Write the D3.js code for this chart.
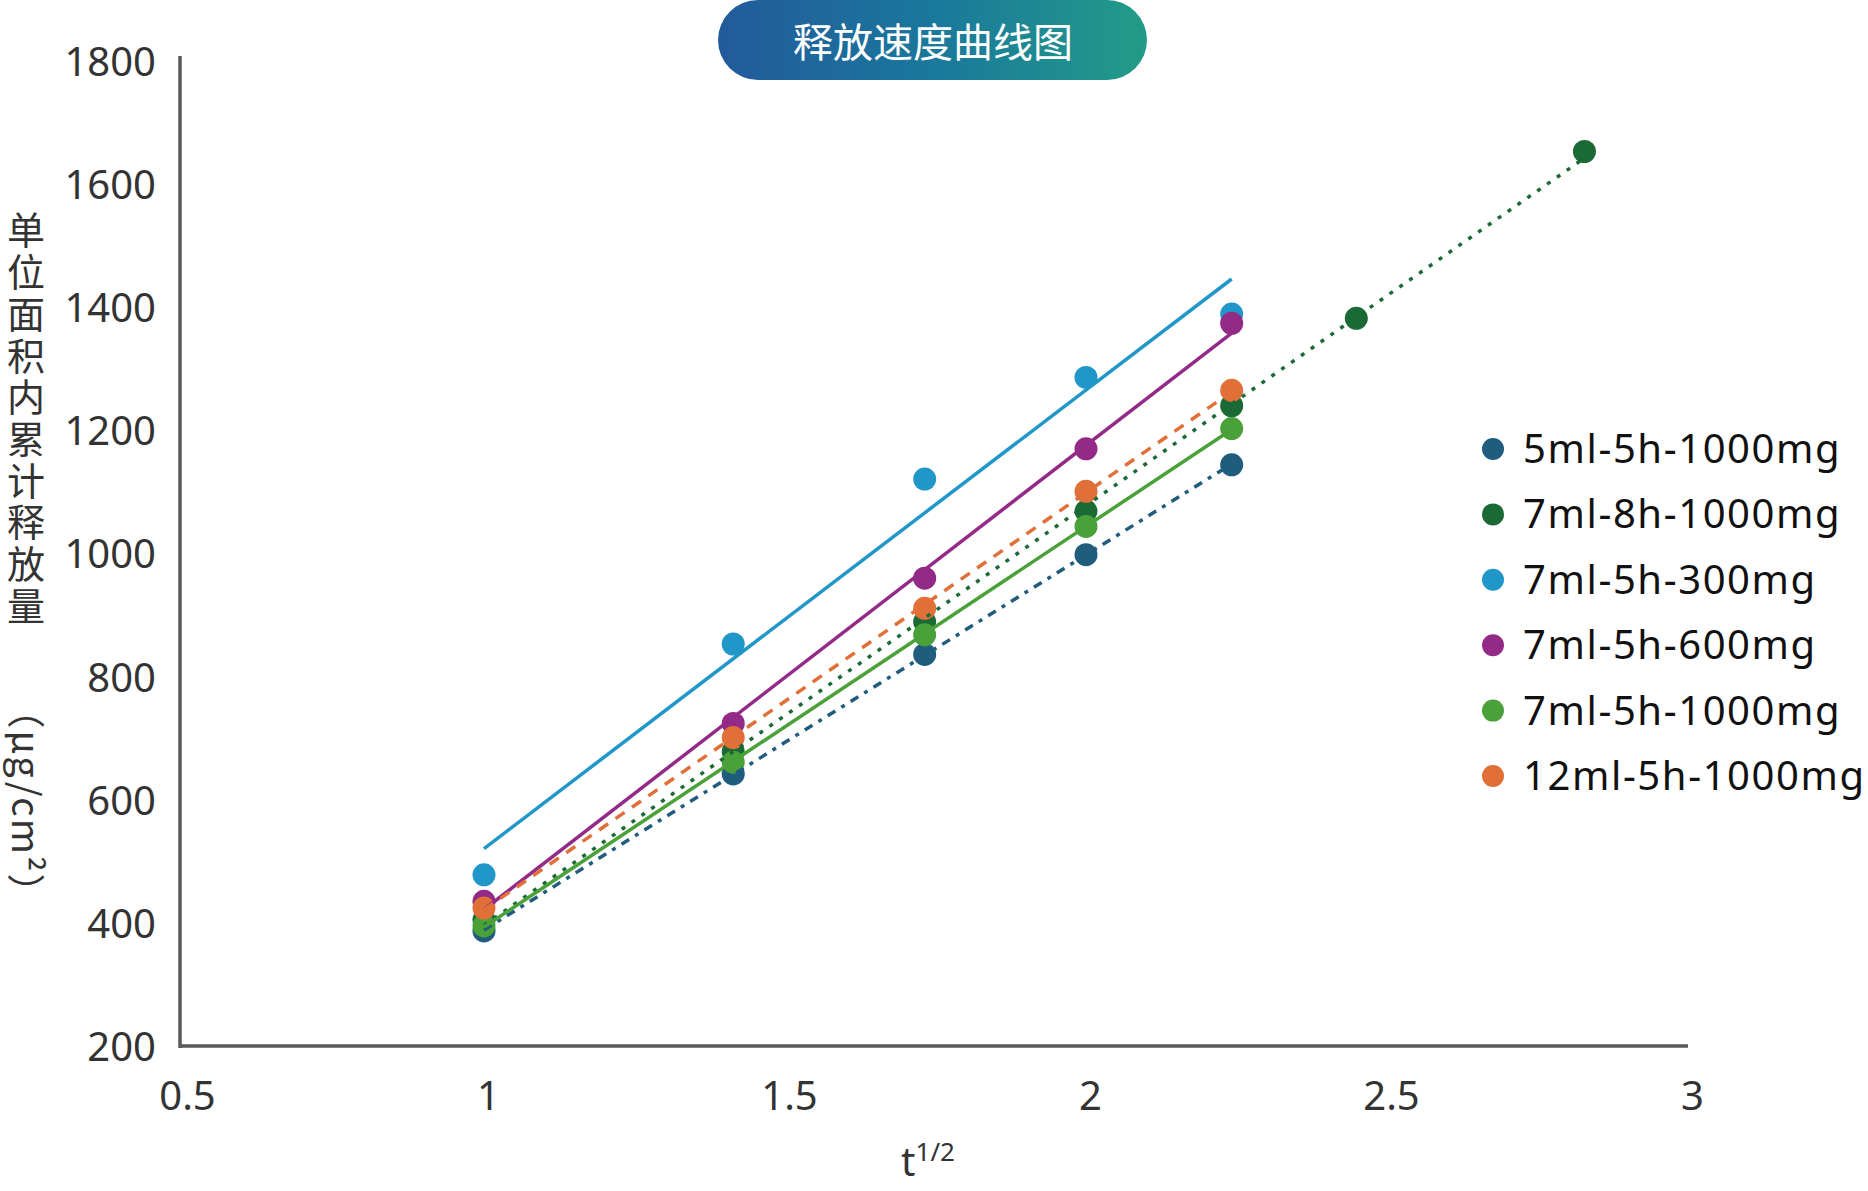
<!DOCTYPE html>
<html>
<head>
<meta charset="utf-8">
<script src="https://cdn.jsdelivr.net/npm/d3@7"></script>
<style>
    body { margin: 0; background: #fff; }
    svg { display: block; }
</style>
</head>
<body>
<svg id="chart" width="1868" height="1191"></svg>
<script>
let TITLE = '释放速度曲线图';
let Y_TITLE = '单位面积内累计释放量';
let Y_UNIT = '（μg/cm²）';

let seriesNames = ['5ml-5h-1000mg', '7ml-8h-1000mg', '7ml-5h-300mg', '7ml-5h-600mg', '7ml-5h-1000mg', '12ml-5h-1000mg'];

// t^1/2 values
let xShort = [1, 1.414, 1.732, 2, 2.242];
let xLong = [1, 1.414, 1.732, 2, 2.242, 2.449, 2.828];

let y5ml1000 = [387, 642, 836, 998, 1144];
let y7ml8h1000 = [405, 678, 889, 1069, 1240, 1382, 1653];
let y7ml300 = [478, 853, 1121, 1286, 1389];
let y7ml600 = [435, 724, 960, 1170, 1374];
let y7ml1000 = [395, 661, 868, 1044, 1203];
let y12ml1000 = [424, 701, 911, 1101, 1265];

let xTicks = [0.5, 1, 1.5, 2, 2.5, 3];
let yTicks = [200, 400, 600, 800, 1000, 1200, 1400, 1600, 1800];

let colors = ['#1f5c7e', '#1b6a36', '#2197c9', '#932a87', '#4aa13a', '#e07038'];
let dashes = ['9 7 4 7', '4 8', null, null, null, '11 9'];

function linearFit(xs, ys) {
    let n = xs.length;
    let mx = d3.mean(xs), my = d3.mean(ys);
    let sxx = 0, sxy = 0;
    for (let i = 0; i < n; i++) {
        sxx += (xs[i] - mx) * (xs[i] - mx);
        sxy += (xs[i] - mx) * (ys[i] - my);
    }
    let slope = sxy / sxx;
    return x => my + slope * (x - mx);
}

let series = [
    {name: seriesNames[0], xs: xShort, ys: y5ml1000},
    {name: seriesNames[1], xs: xLong, ys: y7ml8h1000},
    {name: seriesNames[2], xs: xShort, ys: y7ml300},
    {name: seriesNames[3], xs: xShort, ys: y7ml600},
    {name: seriesNames[4], xs: xShort, ys: y7ml1000},
    {name: seriesNames[5], xs: xShort, ys: y12ml1000}
];

let svg = d3.select('#chart');
let latin = '"Noto Sans", "Open Sans", sans-serif';
let cjk = '"Noto Sans CJK SC", "Noto Sans", sans-serif';

let x = d3.scaleLinear().domain([0.5, 3]).range([183, 1688]);
let y = d3.scaleLinear().domain([200, 1800]).range([1046, 61]);

// title pill
let grad = svg.append('defs').append('linearGradient')
    .attr('id', 'titleGrad')
    .attr('x1', '0%').attr('x2', '100%');
grad.append('stop').attr('offset', '0%').attr('stop-color', '#225a9b');
grad.append('stop').attr('offset', '50%').attr('stop-color', '#1a789c');
grad.append('stop').attr('offset', '100%').attr('stop-color', '#239b88');

svg.append('rect')
    .attr('x', 718).attr('y', 0)
    .attr('width', 429).attr('height', 80)
    .attr('rx', 40)
    .attr('fill', 'url(#titleGrad)');

svg.append('text')
    .attr('x', 933).attr('y', 57)
    .attr('text-anchor', 'middle')
    .style('font-family', cjk)
    .style('font-size', '40px')
    .attr('fill', '#fff')
    .text(TITLE);

// axes
let xAxis = svg.append('g')
    .attr('transform', 'translate(0,1046)')
    .call(d3.axisBottom(x).tickValues(xTicks).tickSize(0).tickPadding(64).tickFormat(d3.format('')));
xAxis.select('.domain').attr('stroke', '#595959').attr('stroke-width', 3.5)
    .attr('d', 'M180,0H1688');
xAxis.selectAll('text')
    .attr('dy', 0)
    .attr('dx', 4)
    .style('font-family', latin)
    .style('font-size', '40px')
    .attr('fill', '#333');

let yAxis = svg.append('g')
    .attr('transform', 'translate(180,0)')
    .call(d3.axisLeft(y).tickValues(yTicks).tickSize(0).tickPadding(24).tickFormat(d3.format('d')));
yAxis.select('.domain').attr('stroke', '#595959').attr('stroke-width', 3.5)
    .attr('d', 'M0,56V1048');
yAxis.selectAll('text')
    .attr('dy', '0.36em')
    .style('font-family', latin)
    .style('font-size', '40px')
    .attr('fill', '#333');

// axis titles
svg.append('text')
    .attr('x', 26).attr('y', 211)
    .style('writing-mode', 'vertical-rl')
    .style('text-orientation', 'upright')
    .style('letter-spacing', '3.7px')
    .style('font-family', cjk)
    .style('font-size', '38px')
    .attr('fill', '#333')
    .text(Y_TITLE);

svg.append('text')
    .attr('transform', 'translate(12,802) rotate(90)')
    .attr('text-anchor', 'middle')
    .style('font-family', cjk)
    .style('font-size', '38px')
    .style('letter-spacing', '2px')
    .attr('fill', '#333')
    .text(Y_UNIT);

let xTitle = svg.append('text')
    .attr('x', 928).attr('y', 1176)
    .attr('text-anchor', 'middle')
    .style('font-family', latin)
    .style('font-size', '40px')
    .attr('fill', '#333');
xTitle.append('tspan').text('t');
xTitle.append('tspan')
    .attr('dy', -15)
    .style('font-size', '26px')
    .text('1/2');

// markers
let plot = svg.append('g');
series.forEach((s, i) => {
    plot.append('g')
        .selectAll('circle')
        .data(s.ys)
        .join('circle')
        .attr('cx', (d, j) => x(s.xs[j]))
        .attr('cy', d => y(d))
        .attr('r', 11.5)
        .attr('fill', colors[i]);
});

// linear trend lines
series.forEach((s, i) => {
    let fit = linearFit(s.xs, s.ys);
    let x0 = d3.min(s.xs), x1 = d3.max(s.xs);
    let line = plot.append('line')
        .attr('x1', x(x0)).attr('y1', y(fit(x0)))
        .attr('x2', x(x1)).attr('y2', y(fit(x1)))
        .attr('stroke', colors[i])
        .attr('stroke-width', 3.5);
    if (dashes[i])
        line.attr('stroke-dasharray', dashes[i]);
});

// legend
let legend = svg.append('g');
seriesNames.forEach((name, i) => {
    let ly = 449 + i * 65.4;
    legend.append('circle')
        .attr('cx', 1493).attr('cy', ly)
        .attr('r', 11)
        .attr('fill', colors[i]);
    legend.append('text')
        .attr('x', 1523).attr('y', ly + 14)
        .style('font-family', latin)
        .style('font-size', '40px')
        .style('letter-spacing', '1.6px')
        .attr('fill', '#111')
        .text(name);
});
</script>
</body>
</html>
